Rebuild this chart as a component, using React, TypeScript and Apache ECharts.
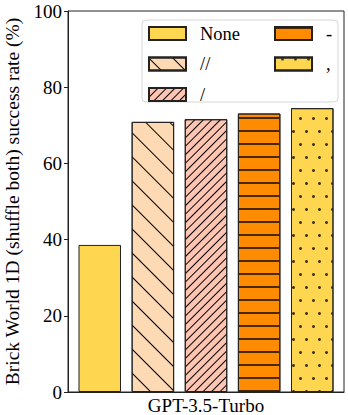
import React, { useEffect, useRef } from "react";
import * as echarts from "echarts";

const categories = ["GPT-3.5-Turbo"];
const seriesNames = ["None", "//", "/", "-", ","];
const seriesValues = [38.6, 70.9, 71.6, 73.1, 74.5];
const yTicks = [0, 20, 40, 60, 80, 100];
const yTitle = "Brick World 1D (shuffle both) success rate (%)";

const FONT = "Liberation Serif";

const colors = ["#FED650", "#FDDAB4", "#FEC5B2", "#FF8C00", "#FED650"];

const decals: any[] = [
  null,
  {
    symbol: "rect",
    symbolSize: 1,
    color: "#000",
    dashArrayX: [1, 0],
    dashArrayY: [1, 15.5],
    rotation: Math.PI / 4,
  },
  {
    symbol: "rect",
    symbolSize: 1,
    color: "#000",
    dashArrayX: [1, 0],
    dashArrayY: [1, 4.8],
    rotation: -Math.PI / 4,
  },
  {
    symbol: "rect",
    symbolSize: 1,
    color: "#4a2800",
    dashArrayX: [1, 0],
    dashArrayY: [1.2, 10.8],
    rotation: 0,
  },
  {
    symbol: "circle",
    symbolSize: 1,
    color: "#3a3010",
    dashArrayX: [
      [2.6, 9.4],
      [0, 6, 2.6, 3.4],
    ],
    dashArrayY: [2.6, 9.1],
    rotation: 0,
  },
];

export default function App() {
  const ref = useRef<HTMLDivElement>(null);
  useEffect(() => {
    if (!ref.current) return;
    const chart = echarts.init(ref.current, undefined, { renderer: "svg" });
    const series = seriesNames.map((name, i) => ({
      name,
      type: "bar",
      data: [seriesValues[i]],
      barWidth: 42.5,
      barGap: "25%",
      itemStyle: {
        color: colors[i],
        borderColor: "#222",
        borderWidth: 1,
        decal: decals[i] || undefined,
      },
    }));
    const legendCommon = {
      orient: "vertical",
      top: 24,
      padding: 0,
      itemWidth: 37,
      itemHeight: 13,
      itemGap: 11.5,
      icon: "rect",
      textStyle: {
        fontFamily: FONT,
        fontSize: 18.5,
        color: "#000",
        lineHeight: 13,
        padding: [0, 0, 0, 9],
      },
    };
    chart.setOption({
      animation: false,
      aria: { enabled: false },
      grid: {
        left: 68,
        right: 4,
        top: 11,
        bottom: 23,
        show: true,
        borderColor: "#222",
        borderWidth: 1,
        outerBoundsMode: "none",
        containLabel: false,
      },
      legend: [
        { ...legendCommon, left: 148, data: seriesNames.slice(0, 3) },
        { ...legendCommon, left: 274, data: seriesNames.slice(3) },
      ],
      graphic: [
        {
          type: "rect",
          z: 3,
          shape: { x: 142, y: 20, width: 196, height: 82, r: 4 },
          style: { fill: "rgba(255,255,255,0.8)", stroke: "#d6d6d6", lineWidth: 1 },
        },
      ],
      xAxis: {
        type: "category",
        data: categories,
        axisTick: { show: false },
        axisLine: { lineStyle: { color: "#222" } },
        axisLabel: { fontFamily: FONT, fontSize: 19, lineHeight: 19, color: "#000", margin: 4 },
      },
      yAxis: {
        type: "value",
        min: yTicks[0],
        max: yTicks[yTicks.length - 1],
        interval: 20,
        name: yTitle,
        nameLocation: "middle",
        nameGap: 45,
        nameRotate: 90,
        nameTextStyle: { fontFamily: FONT, fontSize: 19.5, color: "#000" },
        splitLine: { show: false },
        axisLine: { show: true, lineStyle: { color: "#222" } },
        axisTick: { show: true, inside: false, length: 4, lineStyle: { color: "#222" } },
        axisLabel: { fontFamily: FONT, fontSize: 19, color: "#000", margin: 6 },
      },
      series,
    });
    return () => chart.dispose();
  }, []);
  return <div ref={ref} style={{ width: 348, height: 415, position: "absolute", left: 0, top: 0 }} />;
}
